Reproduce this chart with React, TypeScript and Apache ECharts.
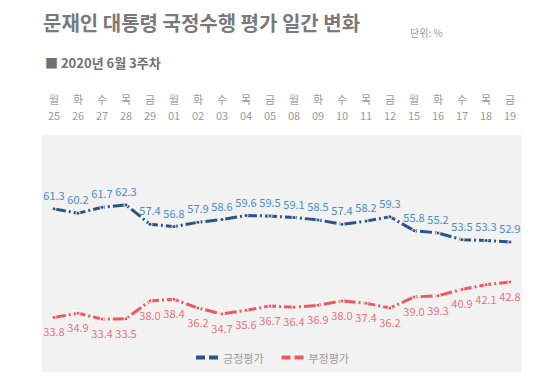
import React, { useEffect, useRef } from "react";
import * as echarts from "echarts";

const days = ["월","화","수","목","금","월","화","수","목","금","월","화","수","목","금","월","화","수","목","금"];
const dates = ["25","26","27","28","29","01","02","03","04","05","08","09","10","11","12","15","16","17","18","19"];
const positive = [61.3,60.2,61.7,62.3,57.4,56.8,57.9,58.6,59.6,59.5,59.1,58.5,57.4,58.2,59.3,55.8,55.2,53.5,53.3,52.9];
const negative = [33.8,34.9,33.4,33.5,38.0,38.4,36.2,34.7,35.6,36.7,36.4,36.9,38.0,37.4,36.2,39.0,39.3,40.9,42.1,42.8];

const FONT = '"Noto Sans CJK KR", "Noto Sans", sans-serif';
const DASH_ICON = "path://M0,0H9V4H0Z M13,0H22V4H13Z";

export default function App() {
  const ref = useRef<HTMLDivElement>(null);
  useEffect(() => {
    document.body.style.margin = "0";
    const chart = echarts.init(ref.current!, null, { renderer: "svg" });
    const categories = days.map((d, i) => d + "\n" + dates[i]);
    chart.setOption({
      animation: false,
      textStyle: { fontFamily: FONT },
      title: [
        {
          text: "문재인 대통령 국정수행 평가 일간 변화",
          left: 38,
          top: 7,
          textStyle: { fontSize: 20, fontWeight: "bold", color: "#7a7a7a", fontFamily: FONT },
        },
        {
          text: "단위: %",
          left: 405,
          top: 22,
          textStyle: { fontSize: 10, fontWeight: "normal", color: "#9a9a9a", fontFamily: FONT },
        },
        {
          text: "■ 2020년 6월 3주차",
          left: 40,
          top: 51,
          textStyle: { fontSize: 13, fontWeight: "bold", color: "#707070", fontFamily: FONT },
        },
      ],
      legend: {
        top: 347,
        left: "center",
        itemWidth: 22,
        itemHeight: 4,
        itemGap: 18,
        textStyle: { color: "#9a9a9a", fontSize: 11, fontFamily: FONT },
        itemStyle: { borderWidth: 0 },
        lineStyle: { width: 0 },
        data: [
          { name: "긍정평가", icon: DASH_ICON, itemStyle: { color: "#2c5587", borderWidth: 0 } },
          { name: "부정평가", icon: DASH_ICON, itemStyle: { color: "#ec5a60", borderWidth: 0 } },
        ],
      },
      grid: {
        left: 42,
        right: 23,
        top: 135,
        bottom: 17,
        show: true,
        backgroundColor: "#f2f2f2",
        borderWidth: 0,
      },
      xAxis: {
        type: "category",
        position: "top",
        data: categories,
        axisLine: { show: false },
        axisTick: { show: false },
        axisLabel: {
          color: "#9a9a9a",
          fontSize: 11,
          lineHeight: 16,
          margin: 12,
          fontFamily: FONT,
        },
      },
      yAxis: {
        type: "value",
        min: 20,
        max: 80,
        show: false,
        splitLine: { show: false },
      },
      series: [
        {
          name: "긍정평가",
          type: "line",
          data: positive,
          color: "#2c5587",
          symbol: "circle",
          symbolSize: 4,
          itemStyle: { color: "#2c5587", borderColor: "#ffffff", borderWidth: 1 },
          lineStyle: { width: 3, color: "#2c5587", type: [12, 3, 2, 3] },
          label: {
            show: true,
            position: "top",
            distance: 6,
            color: "#4a8cc6",
            fontSize: 11,
            fontFamily: FONT,
            formatter: (p: any) => p.value.toFixed(1),
          },
        },
        {
          name: "부정평가",
          type: "line",
          data: negative,
          color: "#ec5a60",
          symbol: "circle",
          symbolSize: 4,
          itemStyle: { color: "#ec5a60", borderColor: "#ffffff", borderWidth: 1 },
          lineStyle: { width: 3, color: "#ec5a60", type: [12, 3, 2, 3] },
          label: {
            show: true,
            position: "bottom",
            distance: 6,
            color: "#e8747a",
            fontSize: 11,
            fontFamily: FONT,
            formatter: (p: any) => p.value.toFixed(1),
          },
        },
      ],
    });
    return () => chart.dispose();
  }, []);
  return <div ref={ref} style={{ width: 545, height: 389 }} />;
}
